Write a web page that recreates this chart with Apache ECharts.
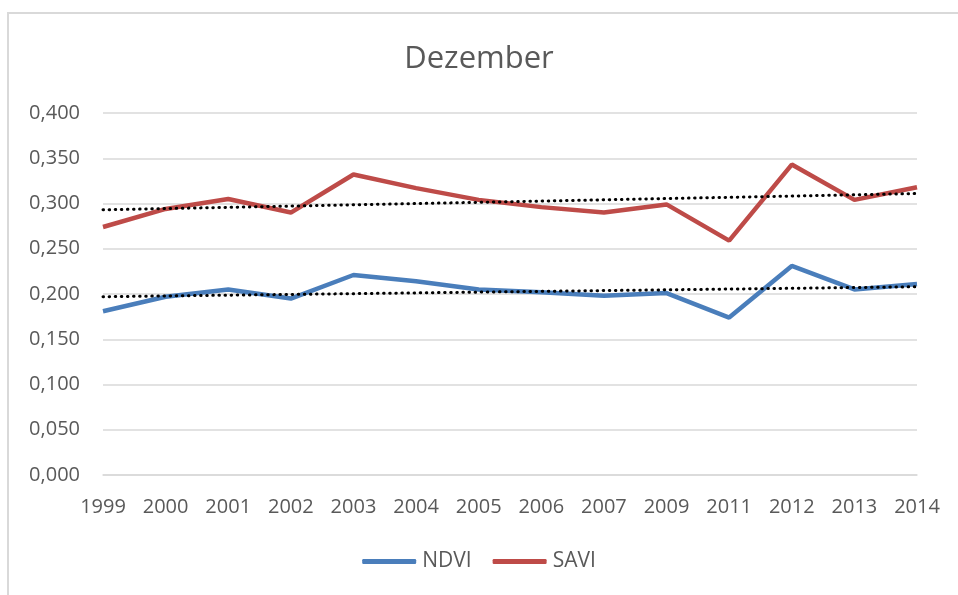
<!DOCTYPE html>
<html>
<head>
    <meta charset="UTF-8">
    <title>Dezember</title>
    <script src="https://cdn.jsdelivr.net/npm/echarts@6/dist/echarts.min.js"></script>
</head>
<style>
    html,body{margin:0;padding:0;background:#fff;}
    #chart{width:958px;height:595px;}
</style>
<body>
<div id="chart"></div>
<script>
    // data
    var years = ['1999','2000','2001','2002','2003','2004','2005','2006','2007','2009','2011','2012','2013','2014'];
    var ndvi = [0.181,0.197,0.205,0.195,0.221,0.214,0.205,0.202,0.198,0.201,0.174,0.231,0.205,0.211];
    var savi = [0.274,0.294,0.305,0.290,0.332,0.317,0.304,0.296,0.290,0.299,0.259,0.343,0.304,0.318];
    // trend line ends (first / last year)
    var ndviTrend = [0.197,0.208];
    var saviTrend = [0.293,0.311];
    var yTicks = {min:0,max:0.4,step:0.05};

    var font = '"Open Sans", "Noto Sans", sans-serif';
    var grey = '#595959';

    function trendData(ends){
        return [[years[0],ends[0]],[years[years.length-1],ends[1]]];
    }
    var dotted = {color:'#000',width:3,type:[0.5,5.6],cap:'round'};

    var chart = echarts.init(document.getElementById('chart'));
    var option = {
        animation:false,
        title:{
            text:'Dezember',
            left:'center',
            top:39,
            textStyle:{fontFamily:font,fontSize:31,fontWeight:'normal',color:grey}
        },
        legend:{
            data:['NDVI','SAVI'],
            bottom:18,
            left:'center',
            icon:'roundRect',
            itemWidth:54,
            itemHeight:5,
            itemGap:21,
            textStyle:{fontFamily:font,fontSize:21,color:grey,padding:[0,0,0,1]}
        },
        grid:{left:103,right:41,top:113,bottom:120},
        xAxis:{
            type:'category',
            data:years,
            boundaryGap:false,
            axisLine:{lineStyle:{color:'#d9d9d9',width:1.5}},
            axisTick:{show:false},
            axisLabel:{fontFamily:font,fontSize:20,color:grey,margin:22,interval:0}
        },
        yAxis:{
            type:'value',
            min:yTicks.min,
            max:yTicks.max,
            interval:yTicks.step,
            axisLine:{show:false},
            axisTick:{show:false},
            splitLine:{lineStyle:{color:'#d9d9d9',width:1.5}},
            axisLabel:{
                fontFamily:font,fontSize:20,color:grey,margin:23,
                formatter:function(v){return v.toFixed(3).replace('.',',');}
            }
        },
        series:[
            {name:'NDVI',type:'line',data:ndvi,showSymbol:false,
                lineStyle:{color:'#4a7ebb',width:4.5},itemStyle:{color:'#4a7ebb'}},
            {name:'SAVI',type:'line',data:savi,showSymbol:false,
                lineStyle:{color:'#be4b48',width:4.5},itemStyle:{color:'#be4b48'}},
            {name:'NDVI trend',type:'line',data:trendData(ndviTrend),showSymbol:false,lineStyle:dotted},
            {name:'SAVI trend',type:'line',data:trendData(saviTrend),showSymbol:false,lineStyle:dotted}
        ],
        graphic:[{
            type:'rect',
            shape:{x:8,y:13,width:1200,height:1000},
            style:{fill:null,stroke:'#d9d9d9',lineWidth:2},
            silent:true
        }]
    };
    chart.setOption(option);
</script>
</body>
</html>
